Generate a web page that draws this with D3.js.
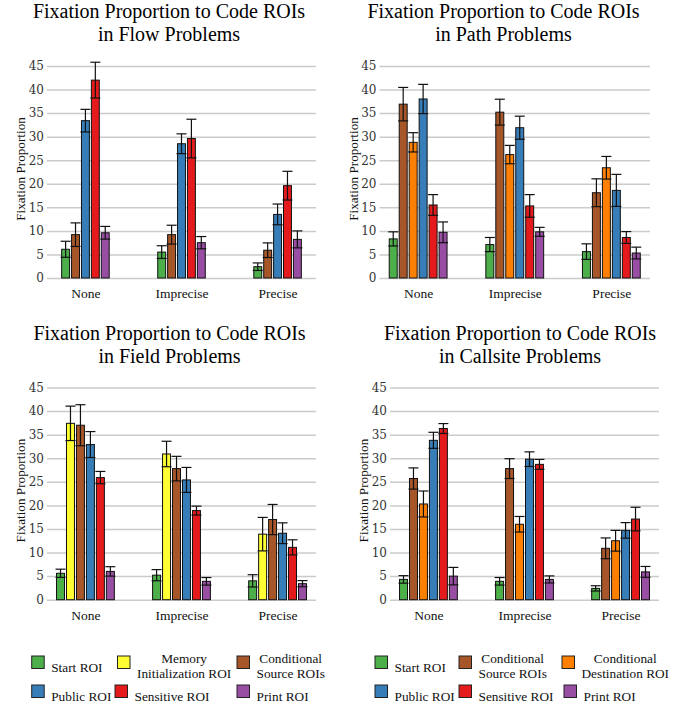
<!DOCTYPE html>
<html>
<head>
<meta charset="utf-8">
<script src="https://cdn.jsdelivr.net/npm/d3@7"></script>
<style>
  body { margin: 0; background: #fff; }
  svg { display: block; }
</style>
</head>
<body>
<div id="chart"></div>
<script>
// values
const categories = ["None", "Imprecise", "Precise"];
const yTicks = [0, 5, 10, 15, 20, 25, 30, 35, 40, 45];

const flowSeries = ["Start ROI", "Conditional Source ROIs", "Public ROI", "Sensitive ROI", "Print ROI"];
const flowMeans = [
  [6.1, 9.2, 33.4, 42.0, 9.6],
  [5.5, 9.2, 28.5, 29.6, 7.5],
  [2.4, 5.9, 13.5, 19.6, 8.2]
];
const flowErrors = [
  [1.7, 2.5, 2.4, 3.8, 1.35],
  [1.35, 2.0, 2.1, 4.1, 1.3],
  [0.8, 1.55, 2.2, 3.05, 1.8]
];

const pathSeries = ["Start ROI", "Conditional Source ROIs", "Conditional Destination ROI", "Public ROI", "Sensitive ROI", "Print ROI"];
const pathMeans = [
  [8.3, 36.9, 28.8, 38.0, 15.5, 9.7],
  [7.1, 35.2, 26.2, 31.9, 15.3, 9.8],
  [5.6, 18.1, 23.4, 18.6, 8.6, 5.3]
];
const pathErrors = [
  [1.5, 3.55, 2.05, 3.1, 2.2, 2.2],
  [1.5, 2.75, 1.95, 2.45, 2.4, 0.95],
  [1.65, 2.95, 2.4, 3.4, 1.25, 1.25]
];

const fieldSeries = ["Start ROI", "Memory Initialization ROI", "Conditional Source ROIs", "Public ROI", "Sensitive ROI", "Print ROI"];
const fieldMeans = [
  [5.6, 37.4, 37.0, 32.9, 25.9, 6.0],
  [5.2, 30.9, 27.8, 25.4, 18.9, 3.9],
  [4.0, 13.9, 17.0, 14.1, 11.1, 3.4]
];
const fieldErrors = [
  [0.87, 3.65, 4.35, 2.75, 1.3, 1.0],
  [1.18, 2.7, 2.6, 2.65, 0.95, 0.8],
  [1.3, 3.55, 3.2, 2.2, 1.6, 0.65]
];

const callsiteSeries = ["Start ROI", "Conditional Source ROIs", "Conditional Destination ROI", "Public ROI", "Sensitive ROI", "Print ROI"];
const callsiteMeans = [
  [4.3, 25.7, 20.3, 33.8, 36.3, 5.0],
  [3.9, 27.8, 16.0, 29.8, 28.7, 4.3],
  [2.4, 10.9, 12.5, 14.7, 17.1, 5.9]
];
const callsiteErrors = [
  [0.8, 2.25, 2.75, 1.7, 1.05, 1.85],
  [0.8, 2.1, 1.65, 1.55, 1.05, 0.75],
  [0.56, 2.2, 2.2, 1.65, 2.5, 1.15]
];

const leftLegend = ["Start ROI", "Memory Initialization ROI", "Conditional Source ROIs", "Public ROI", "Sensitive ROI", "Print ROI"];
const rightLegend = ["Start ROI", "Conditional Source ROIs", "Conditional Destination ROI", "Public ROI", "Sensitive ROI", "Print ROI"];

// styling
const colors = {
  "Start ROI": "#4daf4a",
  "Memory Initialization ROI": "#ffff33",
  "Conditional Source ROIs": "#a65628",
  "Conditional Destination ROI": "#ff7f00",
  "Public ROI": "#377eb8",
  "Sensitive ROI": "#e41a1c",
  "Print ROI": "#984ea3"
};
const legendLines = {
  "Memory Initialization ROI": ["Memory", "Initialization ROI"],
  "Conditional Source ROIs": ["Conditional", "Source ROIs"],
  "Conditional Destination ROI": ["Conditional", "Destination ROI"]
};
const serif = "'Liberation Serif', 'Times New Roman', serif";
const barStep = 10.3;

const W = 687, H = 711;
const svg = d3.select("#chart").append("svg").attr("width", W).attr("height", H);
svg.append("rect").attr("width", W).attr("height", H).attr("fill", "#fff");

const drawPanel = (p) => {
  const g = svg.append("g");
  const y = d3.scaleLinear().domain([0, 45]).range([p.bottom, p.top]);
  const x0 = d3.scalePoint().domain(categories).range([p.left, p.right]).padding(0.4);
  const half = p.series.length * barStep / 2;
  const x1 = d3.scaleBand().domain(p.series).range([-half, half]).padding(0.2);

  // grid + y ticks
  const yAxis = g.append("g")
    .attr("transform", `translate(${p.left},0)`)
    .call(d3.axisLeft(y).tickValues(yTicks).tickSize(-(p.right - p.left)).tickPadding(3));
  yAxis.select(".domain").remove();
  yAxis.selectAll(".tick line").attr("stroke", "#cbcbcb").attr("stroke-width", 1.5);
  yAxis.selectAll(".tick text")
    .attr("font-family", "'DejaVu Serif', serif")
    .attr("font-size", 12)
    .attr("fill", "#333");

  // x labels
  const xAxis = g.append("g")
    .attr("transform", `translate(0,${p.bottom})`)
    .call(d3.axisBottom(x0).tickSize(0).tickPadding(10.5));
  xAxis.select(".domain").remove();
  xAxis.selectAll(".tick text")
    .attr("font-family", serif)
    .attr("font-size", 13.5)
    .attr("fill", "#111");

  // y label
  g.append("text")
    .attr("transform", `translate(${p.left - 22},${(p.top + p.bottom) / 2 - 3}) rotate(-90)`)
    .attr("text-anchor", "middle")
    .attr("font-family", serif)
    .attr("font-size", 13.2)
    .attr("fill", "#111")
    .text("Fixation Proportion");

  // title
  const title = g.append("text")
    .attr("text-anchor", "middle")
    .attr("font-family", serif)
    .attr("font-size", 20)
    .attr("fill", "#000");
  title.append("tspan").attr("x", p.titleX).attr("y", p.titleY).text("Fixation Proportion to Code ROIs");
  title.append("tspan").attr("x", p.titleX).attr("y", p.titleY + 23).text(p.title);

  // bars
  const rows = [];
  categories.forEach((c, i) => {
    p.series.forEach((s, j) => {
      rows.push({ cat: c, series: s, mean: p.means[i][j], err: p.errors[i][j] });
    });
  });

  const groups = g.append("g").selectAll("g")
    .data(rows)
    .join("g")
    .attr("transform", (d) => `translate(${x0(d.cat) + x1(d.series)},0)`);

  groups.append("rect")
    .attr("x", 0)
    .attr("y", (d) => y(d.mean))
    .attr("width", x1.bandwidth())
    .attr("height", (d) => y(0) - y(d.mean))
    .attr("fill", (d) => colors[d.series])
    .attr("stroke", "#111")
    .attr("stroke-width", 1);

  const cx = x1.bandwidth() / 2;
  const capW = 5;
  groups.append("line")
    .attr("x1", cx).attr("x2", cx)
    .attr("y1", (d) => y(d.mean + d.err))
    .attr("y2", (d) => y(d.mean - d.err))
    .attr("stroke", "#111").attr("stroke-width", 1.2);
  groups.append("line")
    .attr("x1", cx - capW).attr("x2", cx + capW)
    .attr("y1", (d) => y(d.mean + d.err)).attr("y2", (d) => y(d.mean + d.err))
    .attr("stroke", "#111").attr("stroke-width", 1.2);
  groups.append("line")
    .attr("x1", cx - capW).attr("x2", cx + capW)
    .attr("y1", (d) => y(d.mean - d.err)).attr("y2", (d) => y(d.mean - d.err))
    .attr("stroke", "#111").attr("stroke-width", 1.2);
};

const drawLegend = (items, cols, rowTops) => {
  const g = svg.append("g");
  items.forEach((name, k) => {
    const row = Math.floor(k / 3);
    const sx = cols[row][k % 3];
    const sy = rowTops[row];
    g.append("rect")
      .attr("x", sx).attr("y", sy)
      .attr("width", 12.5).attr("height", 12.5)
      .attr("fill", colors[name])
      .attr("stroke", "#222").attr("stroke-width", 1);
    const lines = legendLines[name];
    if (!lines) {
      g.append("text")
        .attr("x", sx + 19.5).attr("y", sy + 15.7)
        .attr("font-family", serif).attr("font-size", 13.3).attr("fill", "#111")
        .text(name);
    } else {
      const t = g.append("text")
        .attr("text-anchor", "middle")
        .attr("font-family", serif).attr("font-size", 13.3).attr("fill", "#111");
      const spans = lines.map((l, i) => t.append("tspan").attr("y", sy + 7.3 + i * 14.8).text(l));
      const maxW = d3.max(spans, (s) => s.node().getComputedTextLength());
      spans.forEach((s) => s.attr("x", sx + 19.5 + maxW / 2));
    }
  });
};

drawPanel({ series: flowSeries, means: flowMeans, errors: flowErrors, title: "in Flow Problems",
  left: 47, right: 316, top: 66, bottom: 278, titleX: 169, titleY: 18.3 });
drawPanel({ series: pathSeries, means: pathMeans, errors: pathErrors, title: "in Path Problems",
  left: 379.5, right: 650, top: 66, bottom: 278, titleX: 503.5, titleY: 18.3 });
drawPanel({ series: fieldSeries, means: fieldMeans, errors: fieldErrors, title: "in Field Problems",
  left: 47, right: 316, top: 387.5, bottom: 599.7, titleX: 169.5, titleY: 340 });
drawPanel({ series: callsiteSeries, means: callsiteMeans, errors: callsiteErrors, title: "in Callsite Problems",
  left: 390, right: 659, top: 387.5, bottom: 599.7, titleX: 520, titleY: 340 });

drawLegend(leftLegend, [[31.7, 117.5, 237], [31.7, 115, 237]], [656, 685]);
drawLegend(rightLegend, [[375, 459, 562], [375, 459, 564]], [656, 685]);
</script>
</body>
</html>
